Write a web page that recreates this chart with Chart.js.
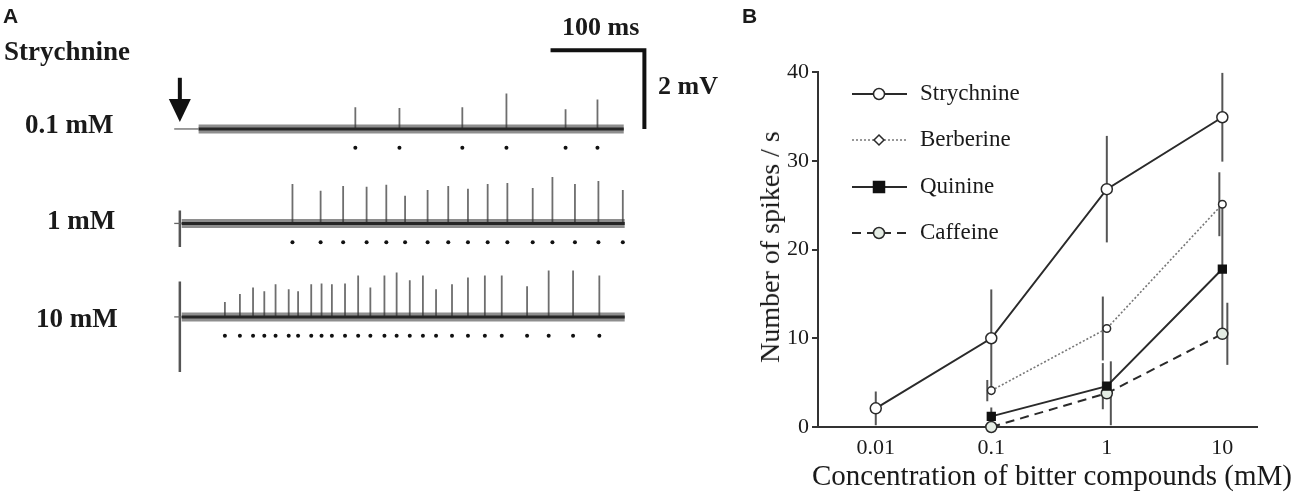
<!DOCTYPE html>
<html>
<head>
<meta charset="utf-8">
<script src="https://cdn.jsdelivr.net/npm/chart.js@4.4.1/dist/chart.umd.min.js"></script>
<style>
  body { margin: 0; background: #fff; width: 1300px; height: 499px; position: relative; overflow: hidden; font-family: "Liberation Serif", serif; color: #1a1a1a; }
  canvas { position: absolute; top: 0; }
  .t { position: absolute; white-space: nowrap; line-height: 1; }
  .lab { font-weight: bold; font-size: 27px; }
</style>
</head>
<body>
<canvas id="panelA" width="660" height="499" style="left:0"></canvas>
<canvas id="panelB" width="560" height="499" style="left:740px"></canvas>

<div class="t" style="left:3px;top:4px;font:bold 21px 'Liberation Sans'">A</div>
<div class="t lab" style="left:4px;top:38px">Strychnine</div>
<div class="t lab" style="left:25px;top:111px">0.1 mM</div>
<div class="t lab" style="left:47px;top:207px">1 mM</div>
<div class="t lab" style="left:36px;top:305px">10 mM</div>
<div class="t lab" style="left:562px;top:14px;font-size:26px">100 ms</div>
<div class="t lab" style="left:658px;top:73px;font-size:26px">2 mV</div>
<div class="t" style="left:742px;top:4px;font:bold 21px 'Liberation Sans'">B</div>
<div class="t" style="left:812px;top:461px;font-size:29px">Concentration of bitter compounds (mM)</div>
<div class="t" style="left:770px;top:247px;font-size:28px;transform:translate(-50%,-50%) rotate(-90deg)">Number of spikes / s</div>

<script>
// ---- Panel A: spike recordings (time in ms, amplitude in mV) ----
const traceNames = ['0.1 mM', '1 mM', '10 mM'];
const traceBase = [-3.175, -5.575, -7.95];
const traceStart = [-6, -6, -6];
const noiseStart = [20, 2, 2];
const traceEnd = [473, 474, 474];
const artifactUp = [0, 0.33, 0.9];
const artifactDown = [0, -0.6, -1.4];

const spikeTimes1 = [187, 234, 301, 348, 411, 445];
const spikeAmps1 = [0.55, 0.53, 0.55, 0.9, 0.5, 0.75];
const spikeTimes2 = [120, 150, 174, 199, 220, 240, 264, 286, 307, 328, 349, 376, 397, 421, 446, 472];
const spikeAmps2 = [1.0, 0.83, 0.95, 0.93, 0.98, 0.7, 0.85, 0.95, 0.88, 1.0, 1.03, 0.9, 1.18, 1.0, 1.08, 0.85];
const spikeTimes3 = [48, 64, 78, 90, 102, 116, 126, 140, 151, 162, 176, 190, 203, 218, 231, 245, 259, 273, 290, 307, 325, 343, 370, 393, 419, 447];
const spikeAmps3 = [0.38, 0.58, 0.75, 0.65, 0.83, 0.7, 0.65, 0.83, 0.85, 0.83, 0.85, 1.05, 0.75, 1.05, 1.13, 0.93, 1.05, 0.7, 0.83, 1.0, 1.05, 1.05, 0.78, 1.18, 1.18, 1.05];
const spikeTimes = [spikeTimes1, spikeTimes2, spikeTimes3];
const spikeAmps = [spikeAmps1, spikeAmps2, spikeAmps3];

const dotDrop = 0.48;        // spike markers sit below the trace
const arrowTime = 0;         // stimulus onset
const scaleBarTime = 395;    // 100 ms / 2 mV scale bar
const scaleBarTop = -1.175;

// ---- Panel B: dose response ----
const concLabels = ['0.01', '0.1', '1', '10'];
const concLog = [-2, -1, 0, 1];
const strychnine = [2.1, 10.0, 26.8, 34.9];
const strychnineErr = [1.9, 5.5, 6.0, 5.0];
const berberine = [null, 4.1, 11.1, 25.1];
const berberineErr = [null, 1.2, 3.6, 3.6];
const quinine = [null, 1.2, 4.6, 17.8];
const quinineErr = [null, 1.0, 2.6, 7.0];
const caffeine = [null, 0.0, 3.8, 10.5];
const caffeineErr = [null, 0.4, 3.6, 3.5];

// build panel A datasets
let aSets = [];
traceBase.forEach((base, i) => {
  aSets.push({ type: 'line', data: [{x: traceStart[i], y: base}, {x: noiseStart[i], y: base}],
    borderColor: '#666', borderWidth: 1.3, pointRadius: 0 });
  aSets.push({ type: 'line', data: [{x: noiseStart[i], y: base}, {x: traceEnd[i], y: base}],
    borderColor: 'rgba(50,50,50,0.55)', borderWidth: 9, pointRadius: 0 });
  aSets.push({ type: 'line', data: [{x: noiseStart[i], y: base}, {x: traceEnd[i], y: base}],
    borderColor: '#1a1a1a', borderWidth: 3, pointRadius: 0 });
  if (artifactUp[i] !== 0) {
    aSets.push({ type: 'line', data: [{x: 0, y: base + artifactUp[i]}, {x: 0, y: base + artifactDown[i]}],
      borderColor: '#555', borderWidth: 2.5, pointRadius: 0 });
  }
  let spk = [];
  spikeTimes[i].forEach((t, k) => {
    spk.push({x: t, y: base}, {x: t, y: base + spikeAmps[i][k]}, {x: t, y: base});
  });
  aSets.push({ type: 'line', label: traceNames[i], data: spk, borderColor: '#6e6e6e', borderWidth: 1.8, pointRadius: 0 });
  aSets.push({ type: 'scatter', data: spikeTimes[i].map(t => ({x: t, y: base - dotDrop})),
    pointRadius: 2, backgroundColor: '#111', borderWidth: 0 });
});

const tracePlugin = {
  id: 'traceMarks',
  afterDraw(chart) {
    const {ctx, scales: {x, y}} = chart;
    ctx.save();
    // stimulus arrow
    const ax = x.getPixelForValue(arrowTime);
    const top = y.getPixelForValue(-1.875), tip = y.getPixelForValue(-3.0);
    ctx.fillStyle = '#111';
    ctx.fillRect(ax - 2, top, 4, tip - top - 20);
    ctx.beginPath();
    ctx.moveTo(ax - 11, tip - 23);
    ctx.lineTo(ax + 11, tip - 23);
    ctx.lineTo(ax, tip);
    ctx.closePath();
    ctx.fill();
    // scale bar
    ctx.strokeStyle = '#111';
    ctx.lineWidth = 4;
    ctx.beginPath();
    ctx.moveTo(x.getPixelForValue(scaleBarTime), y.getPixelForValue(scaleBarTop));
    ctx.lineTo(x.getPixelForValue(scaleBarTime + 100), y.getPixelForValue(scaleBarTop));
    ctx.lineTo(x.getPixelForValue(scaleBarTime + 100), y.getPixelForValue(scaleBarTop - 2));
    ctx.stroke();
    ctx.restore();
  }
};

new Chart(document.getElementById('panelA'), {
  data: { datasets: aSets },
  options: {
    responsive: false, animation: false,
    layout: { padding: 0 },
    plugins: { legend: { display: false }, tooltip: { enabled: false } },
    scales: {
      x: { type: 'linear', display: false, min: -178 / 0.95, max: (660 - 178) / 0.95 },
      y: { type: 'linear', display: false, min: -12.475, max: 0 }
    }
  },
  plugins: [tracePlugin]
});

// panel B
const pts = vals => concLog.map((x, i) => ({x: x, y: vals[i]})).filter(p => p.y !== null);

const errorBars = {
  id: 'errorBars',
  beforeDatasetsDraw(chart) {
    const {ctx, scales: {x, y}} = chart;
    ctx.save();
    ctx.strokeStyle = '#555';
    ctx.lineWidth = 2;
    chart.data.datasets.forEach(ds => {
      ds.values.forEach((v, i) => {
        if (v === null) return;
        const px = x.getPixelForValue(concLog[i]) + ds.errShift[i];
        const lo = Math.max(0, v - ds.errors[i]), hi = Math.min(40, v + ds.errors[i]);
        ctx.beginPath();
        ctx.moveTo(px, y.getPixelForValue(lo));
        ctx.lineTo(px, y.getPixelForValue(hi));
        ctx.stroke();
      });
    });
    ctx.restore();
  }
};

const legendRows = [94, 140, 187, 233];
const lineLegend = {
  id: 'lineLegend',
  afterDraw(chart) {
    const ctx = chart.ctx;
    ctx.save();
    chart.data.datasets.forEach((ds, i) => {
      const yy = legendRows[i];
      const x0 = 852 - 740, x1 = 907 - 740, xm = 879 - 740;
      ctx.strokeStyle = ds.borderColor;
      ctx.lineWidth = ds.borderWidth;
      ctx.setLineDash(ds.borderDash || []);
      ctx.beginPath();
      ctx.moveTo(x0, yy);
      ctx.lineTo(x1, yy);
      ctx.stroke();
      ctx.setLineDash([]);
      ctx.fillStyle = ds.pointBackgroundColor;
      ctx.strokeStyle = ds.pointBorderColor;
      ctx.lineWidth = 1.5;
      const r = ds.legendRadius;
      ctx.beginPath();
      if (ds.legendStyle === 'rect') {
        ctx.rect(xm - r, yy - r, 2 * r, 2 * r);
      } else if (ds.legendStyle === 'rectRot') {
        ctx.moveTo(xm, yy - r); ctx.lineTo(xm + r, yy); ctx.lineTo(xm, yy + r); ctx.lineTo(xm - r, yy); ctx.closePath();
      } else {
        ctx.arc(xm, yy, r, 0, Math.PI * 2);
      }
      ctx.fill();
      ctx.stroke();
      ctx.fillStyle = '#1a1a1a';
      ctx.font = '23px "Liberation Serif"';
      ctx.textBaseline = 'middle';
      ctx.fillText(ds.label, 920 - 740, yy);
    });
    ctx.restore();
  }
};

const series = (label, vals, errs, shift, extra) => Object.assign({
  type: 'line', label: label, data: pts(vals), values: vals, errors: errs, errShift: shift,
  borderColor: '#2a2a2a', borderWidth: 2, pointBorderColor: '#2a2a2a', pointBorderWidth: 1.5,
  pointBackgroundColor: '#fff', clip: false
}, extra);

new Chart(document.getElementById('panelB'), {
  data: {
    datasets: [
      series('Strychnine', strychnine, strychnineErr, [0, 0, 0, 0],
        { pointRadius: 5.5, pointStyle: 'circle', legendStyle: 'circle', legendRadius: 5.5 }),
      series('Berberine', berberine, berberineErr, [0, -4, -4, -3],
        { borderColor: '#777', borderWidth: 1.6, borderDash: [2, 2], pointRadius: 3.8, pointStyle: 'circle',
          legendStyle: 'rectRot', legendRadius: 5 }),
      series('Quinine', quinine, quinineErr, [0, 0, -4, 0],
        { pointRadius: 5.5, pointStyle: 'rect', pointBackgroundColor: '#111', pointBorderColor: '#111',
          legendStyle: 'rect', legendRadius: 5.5 }),
      series('Caffeine', caffeine, caffeineErr, [0, 0, 4, 5],
        { borderDash: [9, 6], pointRadius: 5.5, pointStyle: 'circle', pointBackgroundColor: '#e4ece4',
          legendStyle: 'circle', legendRadius: 5.5 })
    ]
  },
  options: {
    responsive: false, animation: false,
    layout: { padding: { top: 72, right: 43, left: 0, bottom: 0 } },
    plugins: { legend: { display: false }, tooltip: { enabled: false } },
    scales: {
      x: {
        type: 'linear', min: -2.5, max: 1.3,
        afterBuildTicks: s => { s.ticks = concLog.map(v => ({value: v})); },
        afterFit: s => { s.height = 72; },
        grid: { drawOnChartArea: false, drawTicks: false },
        border: { color: '#333', width: 2 },
        ticks: { padding: 8, autoSkip: false, maxRotation: 0, color: '#1a1a1a',
          font: { family: 'Liberation Serif', size: 22 },
          callback: v => concLabels[concLog.indexOf(v)] }
      },
      y: {
        min: 0, max: 40,
        afterFit: s => { s.width = 78; },
        grid: { drawOnChartArea: false, tickLength: 6, color: '#333', lineWidth: 2 },
        border: { color: '#333', width: 2 },
        ticks: { stepSize: 10, padding: 3, color: '#1a1a1a', font: { family: 'Liberation Serif', size: 22 } }
      }
    }
  },
  plugins: [errorBars, lineLegend]
});
</script>
</body>
</html>
